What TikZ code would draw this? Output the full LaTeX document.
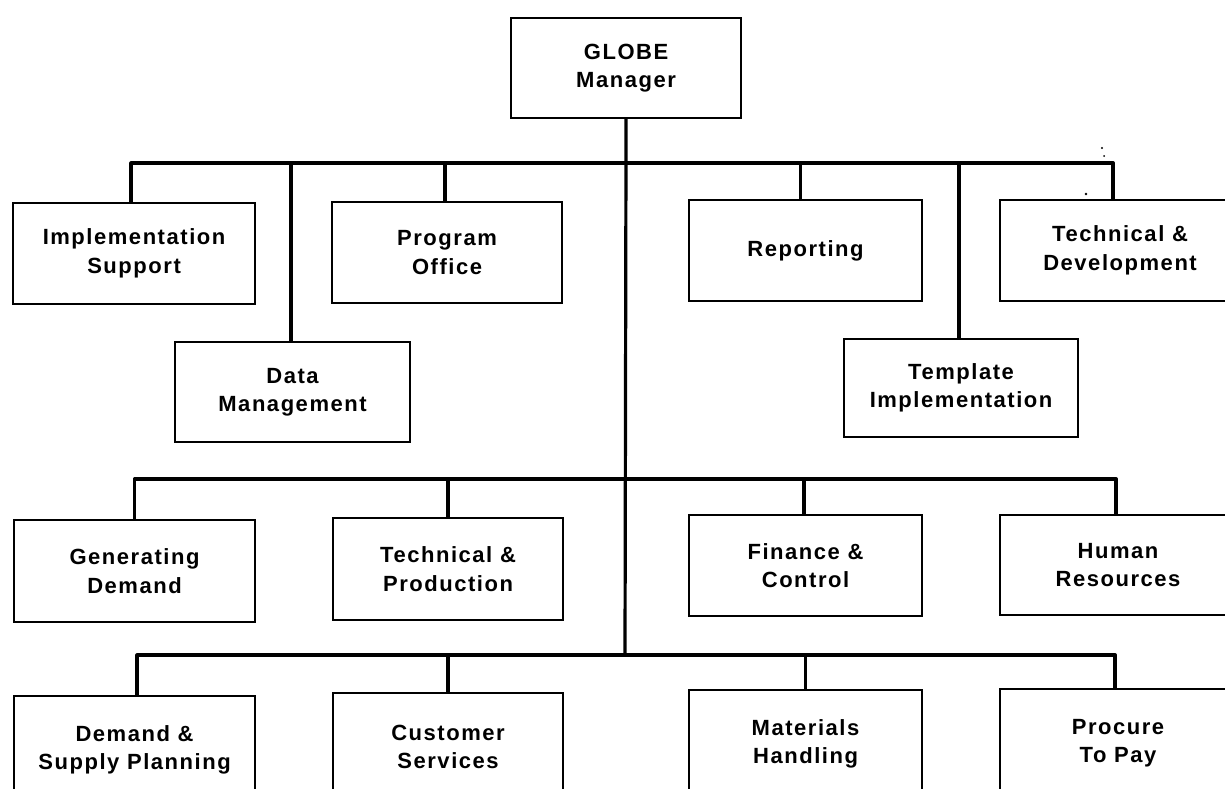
\documentclass[tikz,border=0pt]{standalone}
\usepackage{fontspec}
\setmainfont{Liberation Sans}[LetterSpace=7]
\begin{document}
\begin{tikzpicture}[x=1pt,y=-1pt,
  unit/.style={draw, line width=2.1pt, anchor=north west, align=center,
    inner sep=0pt, font=\fontsize{22}{28.5}\selectfont\bfseries},
  link/.style={line width=3.2pt, line join=round}]
\useasboundingbox (0,0) rectangle (1225,789);
\clip (0,0) rectangle (1225,789);
\fill[white] (0,0) rectangle (1225,789);

% head of the programme
\node[unit, minimum width=230pt, minimum height=100pt] (globe) at (510,17) {GLOBE\\Manager};

% first level: support functions
\node[unit, minimum width=242pt, minimum height=101pt] (impl) at (12,202) {Implementation\\Support};
\node[unit, minimum width=230pt, minimum height=101pt] (prog) at (331,201) {Program\\Office};
\node[unit, minimum width=235pt, minimum height=100pt] (data) at (174,341) {Data\\Management};
\node[unit, minimum width=233pt, minimum height=101pt] (rep) at (688,199) {Reporting};
\node[unit, minimum width=234pt, minimum height=98pt] (tmpl) at (843,338) {Template\\Implementation};
\node[unit, minimum width=240pt, minimum height=101pt] (tdev) at (999,199) {Technical \&\\Development};

% second level: business areas
\node[unit, minimum width=241pt, minimum height=102pt] (gen) at (13,519) {Generating\\Demand};
\node[unit, minimum width=230pt, minimum height=102pt] (tprod) at (332,517) {Technical \&\\Production};
\node[unit, minimum width=233pt, minimum height=101pt] (fin) at (688,514) {Finance \&\\Control};
\node[unit, minimum width=236pt, minimum height=100pt] (hr) at (999,514) {Human\\Resources};

% third level: process teams
\node[unit, minimum width=241pt, minimum height=108pt] (dsp) at (13,695) {Demand \&\\Supply Planning};
\node[unit, minimum width=230pt, minimum height=108pt] (cust) at (332,692) {Customer\\Services};
\node[unit, minimum width=233pt, minimum height=108pt] (mat) at (688,689) {Materials\\Handling};
\node[unit, minimum width=236pt, minimum height=108pt] (ptp) at (999,688) {Procure\\To Pay};

% junctions on the trunk
\coordinate (bus1) at (625,163);
\coordinate (bus2) at (625,479);
\coordinate (bus3) at (625,655);

% trunk
\draw[link] (globe.south) -- (bus3);

% first bus
\draw[link] ([xshift=-3pt]impl.north) |- (bus1) -| ([xshift=-7pt]tdev.north);
\draw[link] ([xshift=-1.5pt]data.north) -- ([xshift=-1.5pt]data.north |- bus1);
\draw[link] ([xshift=-2pt]prog.north) -- ([xshift=-2pt]prog.north |- bus1);
\draw[link] ([xshift=-5pt]rep.north) -- ([xshift=-5pt]rep.north |- bus1);
\draw[link] ([xshift=-2pt]tmpl.north) -- ([xshift=-2pt]tmpl.north |- bus1);

% second bus
\draw[link] (gen.north) |- (bus2) -| ([xshift=-2pt]hr.north);
\draw[link] (tprod.north) -- (tprod.north |- bus2);
\draw[link] ([xshift=-1.5pt]fin.north) -- ([xshift=-1.5pt]fin.north |- bus2);

% third bus
\draw[link] ([xshift=2.5pt]dsp.north) |- (bus3) -| ([xshift=-3pt]ptp.north);
\draw[link] (cust.north) -- (cust.north |- bus3);
\draw[link] (mat.north) -- (mat.north |- bus3);

% specks near the right end of the first bus
\fill (1102,148) circle (1.1pt);
\fill (1104,156) circle (1pt);
\fill (1086,194) circle (1.3pt);
\end{tikzpicture}
\end{document}
